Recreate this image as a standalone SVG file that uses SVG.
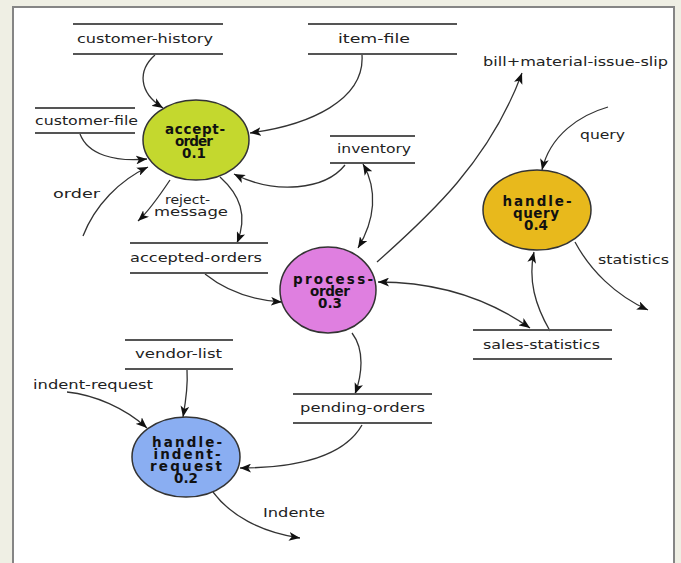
<svg xmlns="http://www.w3.org/2000/svg" width="681" height="563" viewBox="0 0 681 563">
<style>
.store line{stroke:#555;stroke-width:2}
.lbl{font-family:"DejaVu Sans",sans-serif;font-size:12.5px;fill:#222}
.nt{font-family:"DejaVu Sans",sans-serif;font-size:13.5px;font-weight:bold;fill:#111;text-anchor:middle}
.proc ellipse{stroke:#333;stroke-width:1.5}
#edges path{fill:none;stroke:#333;stroke-width:1.3}
</style>
<defs>
<marker id="ah" viewBox="0 0 10 8" markerWidth="11" markerHeight="9" markerUnits="userSpaceOnUse" refX="10" refY="4" orient="auto-start-reverse">
<path d="M0,0 L10,4 L0,8 L2.5,4 Z" fill="#111"/>
</marker>
</defs>
<rect width="681" height="563" fill="#efefe4"/>
<rect x="13" y="7" width="661" height="570" fill="#fff" stroke="#858585" stroke-width="2"/>

<g id="edges">
<path d="M155,55 C138,70 138,92 163,108" marker-end="url(#ah)"/>
<path d="M362,55 C365,100 310,125 250,133" marker-end="url(#ah)"/>
<path d="M80,134 C88,155 115,162 147,159" marker-end="url(#ah)"/>
<path d="M83,236 C95,205 120,180 148,167" marker-end="url(#ah)"/>
<path d="M345,165 C325,190 275,195 234,174" marker-end="url(#ah)"/>
<path d="M170,180 C160,195 150,210 138,221" marker-end="url(#ah)"/>
<path d="M220,177 C240,195 248,215 237,243" marker-end="url(#ah)"/>
<path d="M205,274 C225,290 250,300 282,302" marker-end="url(#ah)"/>
<path d="M363,164 C378,190 375,220 358,248" marker-start="url(#ah)" marker-end="url(#ah)"/>
<path d="M377,262 C430,215 490,160 522,73" marker-end="url(#ah)"/>
<path d="M378,282 C440,282 490,300 530,328" marker-start="url(#ah)" marker-end="url(#ah)"/>
<path d="M550,331 C535,305 528,280 534,252" marker-end="url(#ah)"/>
<path d="M575,242 C590,270 615,295 648,310" marker-end="url(#ah)"/>
<path d="M608,107 C580,115 550,135 542,170" marker-end="url(#ah)"/>
<path d="M352,333 C365,350 362,375 355,394" marker-end="url(#ah)"/>
<path d="M362,425 C345,455 300,468 240,468" marker-end="url(#ah)"/>
<path d="M187,370 C188,385 186,400 183,417" marker-end="url(#ah)"/>
<path d="M67,392 C95,395 125,408 147,428" marker-end="url(#ah)"/>
<path d="M213,492 C230,515 260,532 300,538" marker-end="url(#ah)"/>
</g>

<g id="customer-history" class="store"><line x1="73" y1="24" x2="223" y2="24"/><line x1="73" y1="54" x2="223" y2="54"/><text class="lbl" x="77" y="43" textLength="136" lengthAdjust="spacingAndGlyphs">customer-history</text></g>
<g id="item-file" class="store"><line x1="308" y1="24" x2="457" y2="24"/><line x1="308" y1="54" x2="457" y2="54"/><text class="lbl" x="338" y="43" textLength="72" lengthAdjust="spacingAndGlyphs">item-file</text></g>
<g id="customer-file" class="store"><line x1="35" y1="108" x2="135" y2="108"/><line x1="35" y1="133" x2="135" y2="133"/><text class="lbl" x="35" y="125" textLength="103" lengthAdjust="spacingAndGlyphs">customer-file</text></g>
<g id="inventory" class="store"><line x1="330" y1="136" x2="415" y2="136"/><line x1="330" y1="163" x2="415" y2="163"/><text class="lbl" x="337" y="153" textLength="74" lengthAdjust="spacingAndGlyphs">inventory</text></g>
<g id="accepted-orders" class="store"><line x1="130" y1="243" x2="268" y2="243"/><line x1="130" y1="273" x2="268" y2="273"/><text class="lbl" x="130" y="262" textLength="132" lengthAdjust="spacingAndGlyphs">accepted-orders</text></g>
<g id="vendor-list" class="store"><line x1="125" y1="340" x2="233" y2="340"/><line x1="125" y1="369" x2="233" y2="369"/><text class="lbl" x="135" y="358" textLength="87" lengthAdjust="spacingAndGlyphs">vendor-list</text></g>
<g id="sales-statistics" class="store"><line x1="473" y1="330" x2="612" y2="330"/><line x1="473" y1="359" x2="612" y2="359"/><text class="lbl" x="483" y="349" textLength="117" lengthAdjust="spacingAndGlyphs">sales-statistics</text></g>
<g id="pending-orders" class="store"><line x1="293" y1="394" x2="432" y2="394"/><line x1="293" y1="423" x2="432" y2="423"/><text class="lbl" x="300" y="412" textLength="125" lengthAdjust="spacingAndGlyphs">pending-orders</text></g>

<g id="accept-order" class="proc"><ellipse cx="196" cy="140" rx="53" ry="40" fill="#c4d82e"/><text class="nt" x="195" y="134" textLength="60">accept-</text><text class="nt" x="194" y="146" textLength="38">order</text><text class="nt" x="194" y="158">0.1</text></g>
<g id="process-order" class="proc"><ellipse cx="328" cy="290" rx="48" ry="43" fill="#df7fe0"/><text class="nt" x="333" y="284" textLength="80">process-</text><text class="nt" x="330" y="296" textLength="40">order</text><text class="nt" x="330" y="308">0.3</text></g>
<g id="handle-query" class="proc"><ellipse cx="537" cy="210" rx="54" ry="40" fill="#e8b91c"/><text class="nt" x="537" y="206" textLength="69">handle-</text><text class="nt" x="536" y="218" textLength="46">query</text><text class="nt" x="536" y="230">0.4</text></g>
<g id="handle-indent-request" class="proc"><ellipse cx="186" cy="457" rx="54" ry="40" fill="#8aaef2"/><text class="nt" x="187" y="447" textLength="70">handle-</text><text class="nt" x="187" y="459" textLength="67">indent-</text><text class="nt" x="186" y="471" textLength="72">request</text><text class="nt" x="186" y="483">0.2</text></g>

<g id="labels">
<text class="lbl" x="483" y="66" textLength="185" lengthAdjust="spacingAndGlyphs">bill+material-issue-slip</text>
<text class="lbl" x="53" y="198" textLength="47" lengthAdjust="spacingAndGlyphs">order</text>
<text class="lbl" x="165" y="204" textLength="45" lengthAdjust="spacingAndGlyphs">reject-</text>
<text class="lbl" x="154" y="216" textLength="74" lengthAdjust="spacingAndGlyphs">message</text>
<text class="lbl" x="580" y="139" textLength="45" lengthAdjust="spacingAndGlyphs">query</text>
<text class="lbl" x="598" y="264" textLength="71" lengthAdjust="spacingAndGlyphs">statistics</text>
<text class="lbl" x="33" y="389" textLength="120" lengthAdjust="spacingAndGlyphs">indent-request</text>
<text class="lbl" x="263" y="517" textLength="62" lengthAdjust="spacingAndGlyphs">Indente</text>
</g>
</svg>
